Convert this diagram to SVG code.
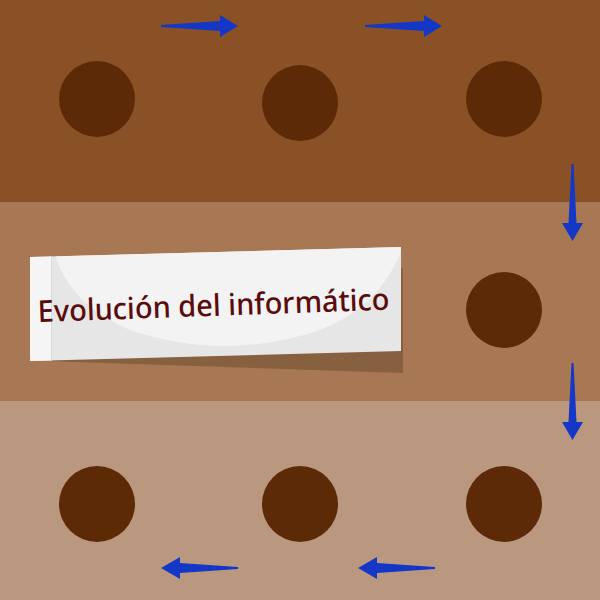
<svg xmlns="http://www.w3.org/2000/svg" width="600" height="600" viewBox="0 0 600 600">
  <style>
    .dot { fill: #5C2A06; }
    .arrow { fill: #1437C8; }
    .title { font-family: "Noto Sans", "DejaVu Sans", sans-serif; font-size: 30px; font-weight: 500; fill: #5A0C0C; }
  </style>
  <defs>
    <clipPath id="cardClip">
      <polygon points="52,256.4 401,247 401,351 52,360.4"/>
    </clipPath>
  </defs>
  <g id="background">
    <rect x="0" y="0" width="600" height="202" fill="#8B5126"/>
    <rect x="0" y="202" width="600" height="199" fill="#A87854"/>
    <rect x="0" y="401" width="600" height="199" fill="#B9987F"/>
  </g>

  <g id="node-1"><circle class="dot" cx="97" cy="99" r="38"/></g>
  <g id="node-2"><circle class="dot" cx="300" cy="103" r="38"/></g>
  <g id="node-3"><circle class="dot" cx="504" cy="99" r="38"/></g>
  <g id="node-4"><circle class="dot" cx="504" cy="310" r="38"/></g>
  <g id="node-5"><circle class="dot" cx="504" cy="504" r="38"/></g>
  <g id="node-6"><circle class="dot" cx="300" cy="504" r="38"/></g>
  <g id="node-7"><circle class="dot" cx="97" cy="504" r="38"/></g>

  <g id="title-card">
    <polygon points="45,361 403,268 403,373" fill="#86603F"/>
    <polygon points="30,257 401,247 401,351 30,361" fill="#E6E6E6"/>
    <g clip-path="url(#cardClip)">
      <path d="M52,240 Q60,300 130,330 Q225,362 320,330 Q385,305 405,240 Z" fill="#F3F3F3"/>
    </g>
    <polygon points="30,257 52,256.4 52,360.4 30,361" fill="#F5F5F5"/>
    <line x1="51.5" y1="256.4" x2="51.5" y2="360.4" stroke="#DADADA" stroke-width="1"/>
    <text class="title" x="38" y="322" textLength="352" lengthAdjust="spacingAndGlyphs" transform="rotate(-2 38 322)">Evolución del informático</text>
  </g>

  <g id="connectors">
    <path class="arrow" d="M161,25 L220,21 L220,15 L238,26 L220,37 L220,31 L161,27 Z"/>
    <path class="arrow" d="M365,25 L424,21 L424,15 L442,26 L424,37 L424,31 L365,27 Z"/>
    <path class="arrow" d="M571.5,164 L568.5,223 L562,223 L572.5,241 L583,223 L576.5,223 L573.5,164 Z"/>
    <path class="arrow" d="M571.5,363 L568.5,422 L562,422 L572.5,440 L583,422 L576.5,422 L573.5,363 Z"/>
    <path class="arrow" d="M238,567 L180,563 L180,557 L161,568 L180,579 L180,573 L238,569 Z"/>
    <path class="arrow" d="M435,567 L377,563 L377,557 L358,568 L377,579 L377,573 L435,569 Z"/>
  </g>
</svg>
